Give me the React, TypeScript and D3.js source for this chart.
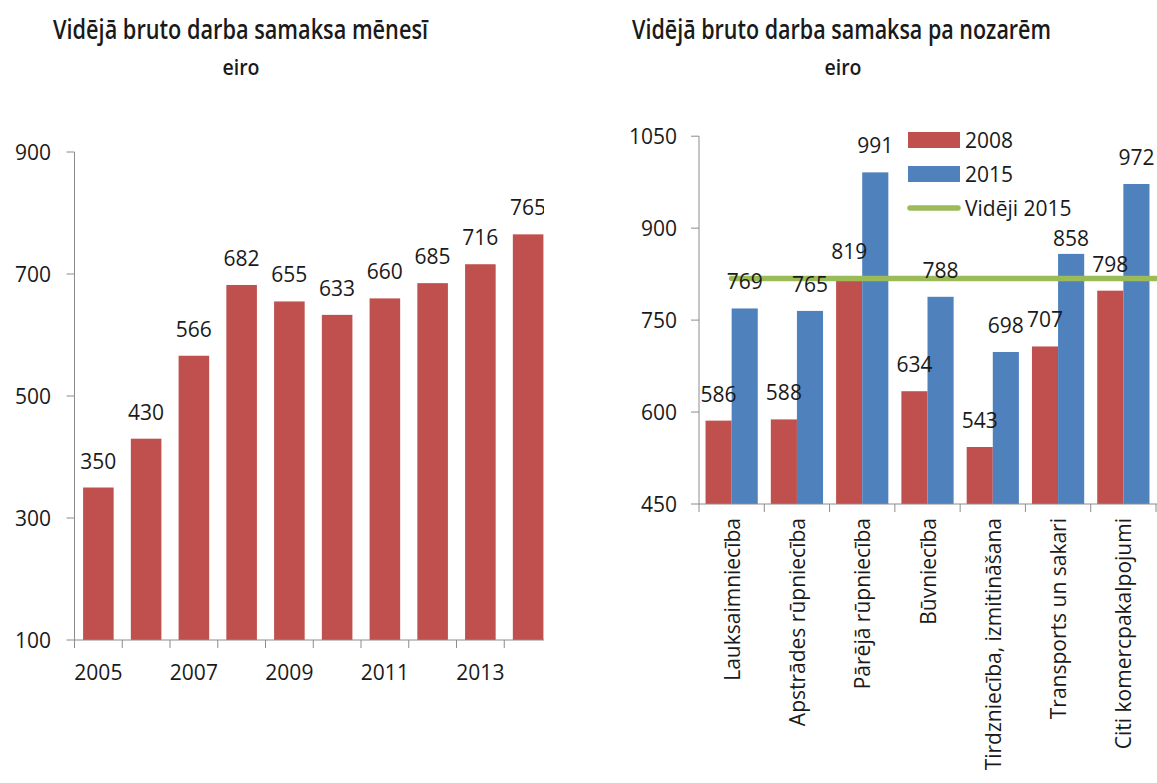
import React from "react";
import * as d3 from "d3";

const years = ["2005", "2006", "2007", "2008", "2009", "2010", "2011", "2012", "2013", "2014"];
const wages = [350, 430, 566, 682, 655, 633, 660, 685, 716, 765];
const leftTicks = [100, 300, 500, 700, 900];
const yearLabels = ["2005", "2007", "2009", "2011", "2013"];

const sectors = [
  "Lauksaimniecība",
  "Apstrādes rūpniecība",
  "Pārējā rūpniecība",
  "Būvniecība",
  "Tirdzniecība, izmitināšana",
  "Transports un sakari",
  "Citi komercpakalpojumi",
];
const wage2008 = [586, 588, 819, 634, 543, 707, 798];
const wage2015 = [769, 765, 991, 788, 698, 858, 972];
const avg2015 = 818;
const rightTicks = [450, 600, 750, 900, 1050];
const seriesNames = ["2008", "2015"];
const lineName = "Vidēji 2015";

// label gap above bar (px); the 858 label sits closer to its bar in the reference
const labelGap2015 = [19, 19, 19, 19, 19, 8, 19];

const RED = "#C0504D";
const BLUE = "#4F81BD";
const GREEN = "#9BBB59";
const AXIS = "#8C8C8C";
const TEXT = "#1a1a1a";
const FONT = "'Open Sans', 'Noto Sans', sans-serif";

export default function App() {
  const W = 1157;
  const H = 783;

  // Left chart
  const xL = d3.scaleBand<string>().domain(years).range([74.5, 552]).paddingInner(0.36).paddingOuter(0.18);
  const yL = d3.scaleLinear().domain([100, 900]).range([640, 152]);
  const stepL = xL.step();
  const leftX0 = 74.5;

  // Right chart
  const x0 = d3.scaleBand<string>().domain(sectors).range([699, 1156]).paddingInner(0.2).paddingOuter(0.1);
  const x1 = d3.scaleBand<string>().domain(seriesNames).range([0, x0.bandwidth()]);
  const yR = d3.scaleLinear().domain([450, 1050]).range([504, 136.2]);
  const stepR = x0.step();
  const rightX0 = 699;

  const lineGen = d3
    .line<number>()
    .x((_, i) => (i === 0 ? (x0(sectors[0]) as number) + x0.bandwidth() / 2 : W))
    .y((d) => yR(d));

  const titleStyle = { fontSize: 27, fontWeight: 600 } as const;
  const unitStyle = { fontSize: 22, fontWeight: 600 } as const;

  return (
    <svg
      width={W}
      height={H}
      style={{ position: "absolute", left: 0, top: 0, background: "#fff" }}
      fontFamily={FONT}
    >
      <defs>
        <clipPath id="clipL">
          <rect x={0} y={0} width={544} height={H} />
        </clipPath>
      </defs>

      {/* Left titles */}
      <text x={240.5} y={38.5} textAnchor="middle" {...titleStyle} fill={TEXT} textLength={375} lengthAdjust="spacingAndGlyphs">
        Vidējā bruto darba samaksa mēnesī
      </text>
      <text x={241} y={75} textAnchor="middle" {...unitStyle} fill={TEXT} textLength={37} lengthAdjust="spacingAndGlyphs">
        eiro
      </text>

      <g clipPath="url(#clipL)">
        {/* y axis */}
        <line x1={leftX0} x2={leftX0} y1={yL(900)} y2={yL(100)} stroke={AXIS} strokeWidth={1} />
        {leftTicks.map((t) => (
          <g key={t}>
            <line x1={leftX0 - 8} x2={leftX0} y1={yL(t)} y2={yL(t)} stroke={AXIS} />
            <text x={51} y={yL(t)} textAnchor="end" dominantBaseline="central" fontSize={21} fill={TEXT}>
              {t}
            </text>
          </g>
        ))}
        {/* bars */}
        {years.map((yr, i) => (
          <rect key={yr} x={xL(yr)} y={yL(wages[i])} width={xL.bandwidth()} height={yL(100) - yL(wages[i])} fill={RED} />
        ))}
        {years.map((yr, i) => (
          <text key={"l" + yr} x={(xL(yr) as number) + xL.bandwidth() / 2} y={yL(wages[i]) - 19} textAnchor="middle" fontSize={21} fill={TEXT}>
            {wages[i]}
          </text>
        ))}
        {/* x axis */}
        <line x1={leftX0} x2={552} y1={yL(100)} y2={yL(100)} stroke={AXIS} />
        {years.map((yr, i) => (
          <line key={"t" + yr} x1={leftX0 + i * stepL} x2={leftX0 + i * stepL} y1={yL(100)} y2={yL(100) + 8} stroke={AXIS} />
        ))}
        {yearLabels.map((yr) => (
          <text key={"y" + yr} x={(xL(yr) as number) + xL.bandwidth() / 2} y={680} textAnchor="middle" fontSize={21} fill={TEXT}>
            {yr}
          </text>
        ))}
      </g>

      {/* Right titles */}
      <text x={841.5} y={39} textAnchor="middle" {...titleStyle} fill={TEXT} textLength={419} lengthAdjust="spacingAndGlyphs">
        Vidējā bruto darba samaksa pa nozarēm
      </text>
      <text x={843} y={75} textAnchor="middle" {...unitStyle} fill={TEXT} textLength={37} lengthAdjust="spacingAndGlyphs">
        eiro
      </text>

      {/* right y axis */}
      <line x1={rightX0} x2={rightX0} y1={yR(1050)} y2={yR(450)} stroke={AXIS} />
      {rightTicks.map((t) => (
        <g key={t}>
          <line x1={rightX0 - 8} x2={rightX0} y1={yR(t)} y2={yR(t)} stroke={AXIS} />
          <text x={677} y={yR(t)} textAnchor="end" dominantBaseline="central" fontSize={21} fill={TEXT}>
            {t}
          </text>
        </g>
      ))}

      {/* bars */}
      {sectors.map((s, i) => (
        <g key={s} transform={`translate(${x0(s)},0)`}>
          <rect x={x1("2008")} y={yR(wage2008[i])} width={x1.bandwidth()} height={yR(450) - yR(wage2008[i])} fill={RED} />
          <rect x={x1("2015")} y={yR(wage2015[i])} width={x1.bandwidth()} height={yR(450) - yR(wage2015[i])} fill={BLUE} />
        </g>
      ))}

      {/* average line */}
      <path d={lineGen([avg2015, avg2015]) || ""} stroke={GREEN} strokeWidth={5.5} strokeLinecap="round" fill="none" />

      {/* data labels */}
      {sectors.map((s, i) => (
        <g key={"dl" + s} transform={`translate(${x0(s)},0)`}>
          <text x={(x1("2008") as number) + x1.bandwidth() / 2} y={yR(wage2008[i]) - 19} textAnchor="middle" fontSize={21} fill={TEXT}>
            {wage2008[i]}
          </text>
          <text x={(x1("2015") as number) + x1.bandwidth() / 2} y={yR(wage2015[i]) - labelGap2015[i]} textAnchor="middle" fontSize={21} fill={TEXT}>
            {wage2015[i]}
          </text>
        </g>
      ))}

      {/* right x axis */}
      <line x1={rightX0} x2={W} y1={yR(450)} y2={yR(450)} stroke={AXIS} />
      {sectors.map((s, i) => (
        <line key={"rt" + s} x1={rightX0 + i * stepR} x2={rightX0 + i * stepR} y1={yR(450)} y2={yR(450) + 8} stroke={AXIS} />
      ))}
      <line x1={rightX0 + 7 * stepR} x2={rightX0 + 7 * stepR} y1={yR(450)} y2={yR(450) + 8} stroke={AXIS} />
      {sectors.map((s) => {
        const cx = (x0(s) as number) + x0.bandwidth() / 2;
        return (
          <text key={"c" + s} transform={`translate(${cx},518) rotate(-90)`} textAnchor="end" dominantBaseline="central" fontSize={21} fill={TEXT}>
            {s}
          </text>
        );
      })}

      {/* legend */}
      <rect x={908} y={132} width={52} height={16} fill={RED} />
      <text x={965} y={140} dominantBaseline="central" fontSize={21} fill={TEXT}>{seriesNames[0]}</text>
      <rect x={908} y={166} width={52} height={16} fill={BLUE} />
      <text x={965} y={174} dominantBaseline="central" fontSize={21} fill={TEXT}>{seriesNames[1]}</text>
      <line x1={910} x2={958} y1={208} y2={208} stroke={GREEN} strokeWidth={5.5} strokeLinecap="round" />
      <text x={965} y={208} dominantBaseline="central" fontSize={21} fill={TEXT}>{lineName}</text>
    </svg>
  );
}
